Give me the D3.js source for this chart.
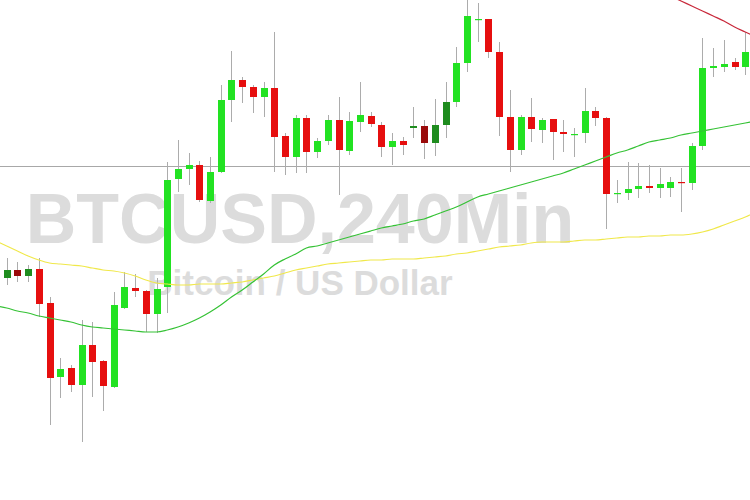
<!DOCTYPE html>
<html>
<head>
<meta charset="utf-8">
<script src="https://cdn.jsdelivr.net/npm/d3@7"></script>
<style>
html,body{margin:0;padding:0;background:#fff;}
svg{display:block;}
</style>
</head>
<body>
<div id="chart"></div>
<script>
// ---- Data (BTCUSD 4h candles) ----
const title = "BTCUSD,240Min";
const subtitle = "Bitcoin / US Dollar";
const open  = [9222,9230,9224,9231,9197,9123,9132,9115,9155,9139,9113,9192,9212,9209,9186,9213,9321,9331,9335,9299,9328,9400,9420,9413,9403,9412,9364,9343,9382,9348,9359,9380,9349,9378,9384,9375,9353,9359,9372,9374,9357,9375,9398,9437,9480,9481,9448,9383,9350,9383,9370,9381,9368,9365,9367,9389,9382,9306,9307,9311,9314,9312,9312,9318,9317,9354,9432,9433,9438,9433];
const close = [9230,9224,9231,9196,9122,9131,9115,9155,9138,9114,9195,9213,9209,9186,9211,9320,9331,9335,9300,9328,9400,9420,9413,9403,9412,9363,9343,9382,9348,9359,9380,9350,9379,9385,9376,9353,9359,9355,9374,9357,9375,9398,9437,9484,9481,9448,9383,9350,9383,9371,9380,9368,9366,9366,9389,9382,9306,9307,9311,9314,9312,9316,9318,9317,9354,9432,9434,9436,9433,9448];
const high  = [9242,9238,9235,9242,9203,9142,9135,9180,9178,9140,9208,9228,9226,9210,9222,9338,9360,9347,9339,9343,9415,9449,9423,9415,9418,9468,9367,9385,9385,9362,9385,9403,9388,9418,9388,9378,9367,9363,9393,9380,9401,9418,9453,9505,9497,9481,9458,9410,9385,9402,9382,9381,9380,9372,9412,9393,9383,9320,9338,9337,9335,9332,9323,9332,9357,9462,9452,9460,9442,9468];
const low   = [9215,9218,9218,9183,9075,9102,9108,9058,9103,9089,9112,9191,9203,9168,9167,9187,9308,9315,9298,9297,9327,9378,9397,9387,9383,9328,9325,9327,9327,9342,9355,9305,9345,9368,9373,9343,9335,9345,9362,9341,9344,9362,9393,9428,9458,9442,9364,9328,9345,9358,9357,9340,9348,9343,9357,9374,9271,9297,9300,9302,9307,9302,9303,9288,9310,9350,9423,9428,9430,9425];
// candles drawn in the darker shade
const darkCandles = [0,1,2,38,39,40,41];
// moving averages: one value per bar, including the bar just before and just after the visible window
const maStart = -1;
const maFast = [9194,9192,9189,9187,9184,9182,9180,9178,9175,9173,9172,9171,9170,9169,9168,9168,9170,9173,9177,9182,9188,9195,9203,9210,9218,9226,9235,9241,9246,9252,9254,9257,9260,9263,9266,9269,9272,9274,9276,9279,9281,9285,9289,9293,9298,9303,9306,9309,9312,9315,9318,9321,9324,9327,9331,9335,9339,9343,9347,9350,9354,9358,9360,9362,9365,9367,9369,9371,9373,9375,9377,9379];
const maMid = [9259,9254,9249,9244,9240,9237,9236,9235,9234,9232,9230,9229,9227,9224,9220,9217,9216,9215,9215,9216,9216,9216,9217,9218,9220,9222,9224,9227,9230,9232,9234,9236,9237,9238,9239,9240,9240,9241,9241,9241,9242,9243,9244,9246,9247,9249,9251,9253,9254,9255,9257,9258,9258,9258,9259,9260,9260,9261,9262,9263,9263,9264,9264,9265,9265,9266,9268,9271,9275,9279,9283,9288];
const maSlowStart = 62;
const maSlow = [9504,9499,9494,9489,9484,9479,9473,9468,9463];
const refLevel = 9334;

// ---- Layout ----
const W = 750, H = 500;
const svg = d3.select("#chart").append("svg").attr("width", W).attr("height", H);
svg.append("rect").attr("width", W).attr("height", H).attr("fill", "#fff");

const n = open.length;
const x = d3.scaleLinear().domain([0, n - 1]).range([6.7, 745.3]);
const y = d3.scaleLinear().domain([9000, 9500]).range([500, 0]);

// watermark
svg.append("text").attr("x", 300).attr("y", 243).attr("text-anchor", "middle")
  .attr("font-family", "'Liberation Sans', Arial, sans-serif").attr("font-weight", "bold")
  .attr("font-size", 70).attr("fill", "#dcdcdc").text(title);
svg.append("text").attr("x", 300).attr("y", 295).attr("text-anchor", "middle")
  .attr("font-family", "'Liberation Sans', Arial, sans-serif").attr("font-weight", "bold")
  .attr("font-size", 35).attr("fill", "#dcdcdc").text(subtitle);

// reference level line
svg.append("line").attr("x1", 0).attr("x2", W)
  .attr("y1", Math.round(y(refLevel)) + 0.5).attr("y2", Math.round(y(refLevel)) + 0.5)
  .attr("stroke", "#a8a8a8").attr("stroke-width", 1);

const idx = d3.range(n);
const cx = i => Math.round(x(i)) + 0.5;

// wicks
svg.append("g").selectAll("line").data(idx).join("line")
  .attr("x1", cx).attr("x2", cx)
  .attr("y1", i => y(high[i])).attr("y2", i => y(low[i]))
  .attr("stroke", "#acacac").attr("stroke-width", 1);

// bodies
const bw = 7;
function bodyColor(i) {
  const up = close[i] >= open[i];
  const dark = darkCandles.includes(i);
  if (up) return dark ? "#1e8c1e" : "#22e222";
  return dark ? "#9a0a0a" : "#e60f0f";
}
svg.append("g").selectAll("rect").data(idx).join("rect")
  .attr("x", i => Math.round(x(i)) - 3)
  .attr("width", bw)
  .attr("y", i => y(Math.max(open[i], close[i])))
  .attr("height", i => Math.max(1.2, Math.abs(y(open[i]) - y(close[i]))))
  .attr("fill", bodyColor);

// moving averages
const line = d3.line().x(d => x(d[0])).y(d => y(d[1])).curve(d3.curveMonotoneX);
svg.append("path").datum(maMid.map((v, i) => [i + maStart, v]))
  .attr("d", line).attr("fill", "none").attr("stroke", "#f0e84a").attr("stroke-width", 1.2);
svg.append("path").datum(maFast.map((v, i) => [i + maStart, v]))
  .attr("d", line).attr("fill", "none").attr("stroke", "#35c235").attr("stroke-width", 1.2);
svg.append("path").datum(maSlow.map((v, i) => [i + maSlowStart, v]))
  .attr("d", line).attr("fill", "none").attr("stroke", "#c8283a").attr("stroke-width", 1.2);
</script>
</body>
</html>
